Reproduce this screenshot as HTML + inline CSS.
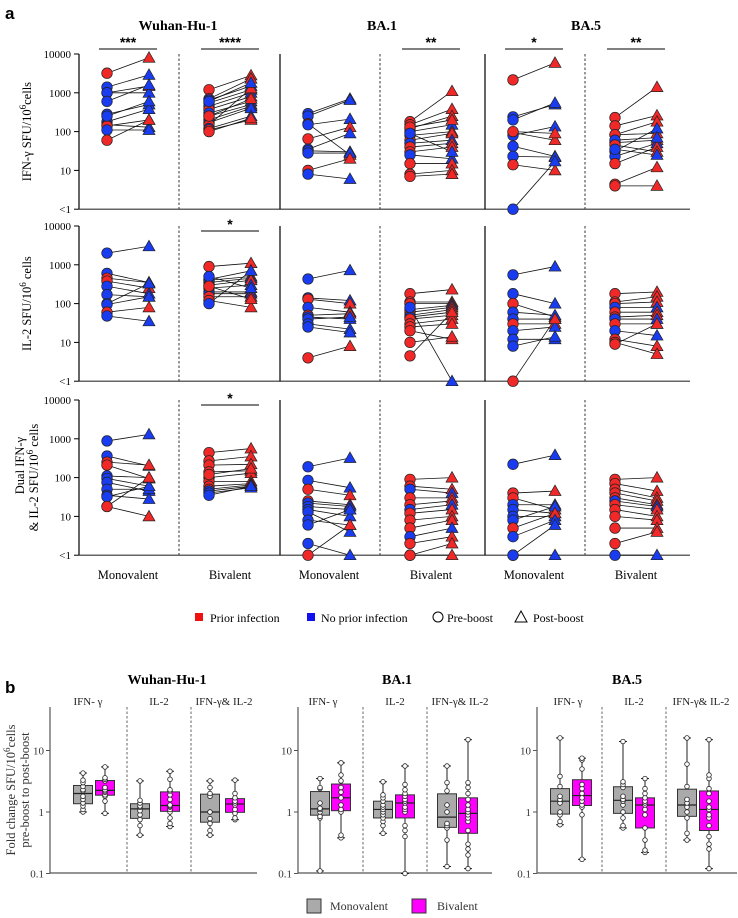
<!DOCTYPE html>
<html><head><meta charset="utf-8">
<style>
html,body{margin:0;padding:0;background:#fff;}
svg{display:block;font-family:"Liberation Serif",serif;}
.sans{font-family:"Liberation Sans",sans-serif;}
</style></head>
<body>
<svg id="fig" width="738" height="918" viewBox="0 0 738 918" xmlns="http://www.w3.org/2000/svg">
  <text x="5" y="19" class="sans" font-size="17" font-weight="bold">a</text>
  <text x="5" y="693" class="sans" font-size="17" font-weight="bold">b</text>
  <text x="178" y="30" font-size="14" font-weight="bold" text-anchor="middle">Wuhan-Hu-1</text>
  <text x="382" y="30" font-size="14" font-weight="bold" text-anchor="middle">BA.1</text>
  <text x="586" y="30" font-size="14" font-weight="bold" text-anchor="middle">BA.5</text>
  <g id="gA"></g>
  <g id="gB"></g>
  <g>
    <rect x="195" y="613" width="8" height="8" fill="#f01010"/>
    <text x="210" y="622" font-size="12">Prior infection</text>
    <rect x="307" y="613" width="8" height="8" fill="#1010f0"/>
    <text x="321" y="622" font-size="12">No prior infection</text>
    <circle cx="438" cy="617" r="5" fill="none" stroke="#000"/>
    <text x="447" y="622" font-size="12">Pre-boost</text>
    <path d="M521 611 L527 622 L515 622 Z" fill="none" stroke="#000"/>
    <text x="533" y="622" font-size="12">Post-boost</text>
  </g>
  <g>
    <rect x="307" y="899" width="14" height="14" fill="#aaa" stroke="#333"/>
    <text x="330" y="910" font-size="12" fill="#333">Monovalent</text>
    <rect x="412" y="899" width="14" height="14" fill="#ff00ff" stroke="#333"/>
    <text x="437" y="910" font-size="12" fill="#333">Bivalent</text>
  </g>
</svg>
<script>
// ===== Panel a data: SFU/10^6 cells (values <1 plotted as "<1") =====
const yTicksA = [10000, 1000, 100, 10, 1];
const yTickLabelsA = ["10000", "1000", "100", "10", "<1"];
const antigens = ["Wuhan-Hu-1", "BA.1", "BA.5"];
const vaccines = ["Monovalent", "Bivalent"];

// IFN-gamma
const ifnWuhanMonoPre = [3200,1400,1000,1000,600,280,180,150,140,110,60,250];
const ifnWuhanMonoPost = [8000,2900,1500,1000,1600,500,380,130,200,110,200,600];
const ifnWuhanMonoPrior = [1,0,1,0,0,0,0,0,1,0,1,0];
const ifnWuhanBiPre = [1200,700,650,550,450,370,300,250,200,170,150,120,110,100,600,250];
const ifnWuhanBiPost = [2800,2300,1500,1200,1000,800,600,500,450,400,1300,250,200,220,1800,700];
const ifnWuhanBiPrior = [1,1,0,1,0,1,0,1,0,0,1,0,1,1,0,1];
const ifnBa1MonoPre = [290,250,160,150,65,35,32,28,10,8];
const ifnBa1MonoPost = [700,650,25,210,130,90,30,28,20,6];
const ifnBa1MonoPrior = [0,0,1,0,1,0,0,0,1,0];
const ifnBa1BiPre = [180,150,120,100,80,60,50,40,30,25,15,8,7,130,90];
const ifnBa1BiPost = [1100,380,250,150,100,90,60,50,40,20,15,10,8,200,30];
const ifnBa1BiPrior = [1,1,1,0,1,1,0,1,1,0,1,1,1,1,0];
const ifnBa5MonoPre = [2150,240,200,95,80,42,23,14,1,100];
const ifnBa5MonoPost = [5900,500,550,60,135,23,22,10,17,90];
const ifnBa5MonoPrior = [1,0,0,1,0,0,0,1,0,1];
const ifnBa5BiPre = [230,140,83,83,52,31,23,15,4.4,4,60,45,35];
const ifnBa5BiPost = [1400,260,180,90,60,120,50,40,12,4,70,30,25];
const ifnBa5BiPrior = [1,1,1,1,1,0,0,1,1,1,0,1,0];
// IL-2
const il2WuhanMonoPre = [2000,600,450,380,280,170,100,95,60,48];
const il2WuhanMonoPost = [3000,350,350,250,180,150,330,150,80,35];
const il2WuhanMonoPrior = [0,0,1,1,0,0,0,0,1,0];
const il2WuhanBiPre = [900,420,400,350,300,250,200,180,150,120,100,500,280];
const il2WuhanBiPost = [1100,700,500,450,400,300,200,180,150,80,700,250,130];
const il2WuhanBiPrior = [1,0,1,0,1,0,1,0,1,1,0,0,1];
const il2Ba1MonoPre = [430,140,130,80,50,45,40,30,25,4];
const il2Ba1MonoPost = [720,120,100,60,55,40,45,22,18,8];
const il2Ba1MonoPrior = [0,0,1,0,1,0,0,0,0,1];
const il2Ba1BiPre = [180,110,100,70,60,50,45,40,30,25,20,10,4.5,80];
const il2Ba1BiPost = [230,110,100,90,80,70,60,50,40,30,12,14,60,1];
const il2Ba1BiPrior = [1,1,1,0,1,1,0,1,1,1,1,1,1,0];
const il2Ba5MonoPre = [550,180,100,60,40,30,20,12,8,1];
const il2Ba5MonoPost = [900,100,45,50,40,30,25,12,14,40];
const il2Ba5MonoPrior = [0,0,1,0,0,1,0,0,0,1];
const il2Ba5BiPre = [180,110,100,80,60,45,40,30,20,12,10,9];
const il2Ba5BiPost = [200,150,110,80,60,50,40,30,15,8,5,30];
const il2Ba5BiPrior = [1,1,1,0,1,1,0,1,0,1,1,1];
// Dual IFN-gamma & IL-2
const dualWuhanMonoPre = [880,360,250,210,110,95,75,50,35,32,18,18];
const dualWuhanMonoPost = [1300,200,210,95,100,60,45,50,28,60,100,10];
const dualWuhanMonoPrior = [0,0,1,1,0,0,0,0,0,0,1,1];
const dualWuhanBiPre = [440,270,210,140,100,80,60,50,45,40,35,120];
const dualWuhanBiPost = [560,350,220,150,130,80,70,65,60,55,60,170];
const dualWuhanBiPrior = [1,1,1,1,1,1,1,1,0,0,0,1];
const dualBa1MonoPre = [190,85,50,25,22,18,15,13,8,6,2,1];
const dualBa1MonoPost = [320,55,35,20,18,15,10,4,6,15,1,6];
const dualBa1MonoPrior = [0,0,1,1,0,0,0,0,0,0,0,1];
const dualBa1BiPre = [90,60,50,30,20,15,12,8,5,3,2,1,1];
const dualBa1BiPost = [100,50,40,30,25,20,15,10,8,5,3,2,1];
const dualBa1BiPrior = [1,1,0,1,1,0,1,1,1,0,1,1,1];
const dualBa5MonoPre = [220,40,30,20,15,10,8,5,3,1,1];
const dualBa5MonoPost = [380,45,15,20,12,10,18,12,8,6,1];
const dualBa5MonoPrior = [0,1,1,0,0,0,0,1,0,0,0];
const dualBa5BiPre = [90,70,50,40,30,25,20,15,10,5,2,1];
const dualBa5BiPost = [100,45,30,25,20,18,15,10,8,5,4,1];
const dualBa5BiPrior = [1,1,1,1,1,0,1,1,1,1,1,0];

const sigLabels = [["***","****","","**","*","**"],["","*","","","",""],["","*","","","",""]];

// ===== Panel b data: fold change post/pre =====
const yTicksB = [10, 1, 0.1];
const yTickLabelsB = ["10", "1", "0.1"];
const readouts = ["IFN- γ", "IL-2", "IFN-γ& IL-2"];
const fcWuhanIfnMono = [1.0,1.1,1.25,1.4,1.6,1.8,2.2,2.3,2.6,3.0,3.3,4.3];
const fcWuhanIfnBi = [0.95,1.5,1.8,1.9,2.1,2.2,2.3,2.5,3.2,3.4,3.6,5.4];
const fcWuhanIl2Mono = [0.42,0.6,0.75,0.9,1.05,1.2,1.25,1.4,1.55,3.2];
const fcWuhanIl2Bi = [0.58,0.65,0.8,1.0,1.1,1.2,1.25,1.3,1.6,1.9,2.2,2.3,3.4,4.6];
const fcWuhanDualMono = [0.42,0.5,0.65,0.78,1.0,1.0,1.8,2.0,2.5,3.2];
const fcWuhanDualBi = [0.75,0.8,0.95,1.1,1.3,1.4,1.5,1.7,2.0,3.3];
const fcBa1IfnMono = [0.11,0.8,0.85,1.0,1.1,1.15,1.4,2.4,2.5,3.5];
const fcBa1IfnBi = [0.38,0.42,1.0,1.1,1.3,1.7,2.1,2.5,3.2,4.0,6.3];
const fcBa1Il2Mono = [0.45,0.6,0.7,0.8,0.9,1.0,1.1,1.2,1.3,1.5,1.7,1.9,3.1];
const fcBa1Il2Bi = [0.1,0.4,0.5,0.6,1.0,1.1,1.2,1.4,1.5,1.6,1.8,2.0,2.3,2.8,5.6];
const fcBa1DualMono = [0.13,0.35,0.55,0.6,0.65,1.0,1.3,2.2,3.0,5.6];
const fcBa1DualBi = [0.12,0.2,0.25,0.3,0.5,0.7,0.8,0.9,1.0,1.1,1.3,1.6,2.0,2.5,3.0,15];
const fcBa5IfnMono = [0.62,0.7,0.9,1.0,1.4,1.6,1.8,2.6,3.8,16];
const fcBa5IfnBi = [0.17,0.9,1.2,1.3,1.5,1.7,2.0,2.4,2.8,5.0,7.0,7.5];
const fcBa5Il2Mono = [0.55,0.6,0.8,1.0,1.3,1.5,1.6,1.8,2.5,2.8,3.1,14];
const fcBa5Il2Bi = [0.22,0.24,0.35,0.55,0.9,1.1,1.3,1.4,1.5,1.7,2.0,2.4,3.5];
const fcBa5DualMono = [0.35,0.45,0.8,1.0,1.2,1.4,1.6,2.6,6.0,16];
const fcBa5DualBi = [0.12,0.25,0.3,0.4,0.6,0.8,0.9,1.1,1.2,1.5,2.0,2.4,3.5,4.0,15];

const NS = "http://www.w3.org/2000/svg";
function mk(parent, tag, attrs, text){
  const e = document.createElementNS(NS, tag);
  for (const k in attrs) e.setAttribute(k, attrs[k]);
  if (text !== undefined) e.textContent = text;
  parent.appendChild(e);
  return e;
}
const RED = "#f02828", BLUE = "#1a3cf0";

// ---------- Panel A ----------
const gA = document.getElementById("gA");
const rowTops = [54, 226, 400];
const decA = 38.8;
const secStarts = [79, 280, 485];
const axRight = 690;
function yA(row, v){ return rowTops[row] + (4 - Math.log10(Math.max(v,1))) * decA; }
const panels = [
  [[ifnWuhanMonoPre,ifnWuhanMonoPost,ifnWuhanMonoPrior],[ifnWuhanBiPre,ifnWuhanBiPost,ifnWuhanBiPrior],
   [ifnBa1MonoPre,ifnBa1MonoPost,ifnBa1MonoPrior],[ifnBa1BiPre,ifnBa1BiPost,ifnBa1BiPrior],
   [ifnBa5MonoPre,ifnBa5MonoPost,ifnBa5MonoPrior],[ifnBa5BiPre,ifnBa5BiPost,ifnBa5BiPrior]],
  [[il2WuhanMonoPre,il2WuhanMonoPost,il2WuhanMonoPrior],[il2WuhanBiPre,il2WuhanBiPost,il2WuhanBiPrior],
   [il2Ba1MonoPre,il2Ba1MonoPost,il2Ba1MonoPrior],[il2Ba1BiPre,il2Ba1BiPost,il2Ba1BiPrior],
   [il2Ba5MonoPre,il2Ba5MonoPost,il2Ba5MonoPrior],[il2Ba5BiPre,il2Ba5BiPost,il2Ba5BiPrior]],
  [[dualWuhanMonoPre,dualWuhanMonoPost,dualWuhanMonoPrior],[dualWuhanBiPre,dualWuhanBiPost,dualWuhanBiPrior],
   [dualBa1MonoPre,dualBa1MonoPost,dualBa1MonoPrior],[dualBa1BiPre,dualBa1BiPost,dualBa1BiPrior],
   [dualBa5MonoPre,dualBa5MonoPost,dualBa5MonoPrior],[dualBa5BiPre,dualBa5BiPost,dualBa5BiPrior]]
];
const rowLabels = [["IFN-γ  SFU/10","6","cells"],["IL-2 SFU/10","6"," cells"],["& IL-2 SFU/10","6"," cells"]];
function colX(c){ const s = secStarts[Math.floor(c/2)]; return (c%2===0) ? [s+28, s+70] : [s+130, s+172]; }

for (let r=0; r<3; r++){
  const top = rowTops[r], bot = yA(r,1);
  const axes = mk(gA,"g",{});
  
  
  let ln = mk(axes,"line",{x1:79,y1:top,x2:79,y2:bot,stroke:"#000","stroke-width":1.2});
  
  
  ln = mk(axes,"line",{x1:79,y1:bot,x2:axRight,y2:bot,stroke:"#333","stroke-width":1.2});
  
  
  for (const s of [280,485]){
    ln = mk(axes,"line",{x1:s,y1:top,x2:s,y2:bot,stroke:"#000","stroke-width":1.2});
    
    
  }
  for (const s of secStarts){
    ln = mk(axes,"line",{x1:s+100,y1:top,x2:s+100,y2:bot,stroke:"#333","stroke-width":1,"stroke-dasharray":"2.5,2"});
    
    
  }
  yTicksA.forEach((t,i)=>{
    const y = yA(r,t);
    const tk = mk(axes,"line",{x1:74,y1:y,x2:79,y2:y,stroke:"#000"});
    
    
    const tl = mk(axes,"text",{x:71,y:y+4,"font-size":11,"text-anchor":"end"}, yTickLabelsA[i]);
    
    
  });
  const cy = (top+bot)/2;
  const yt = mk(gA,"text",{transform:"translate("+(r===2?38:31)+","+cy+") rotate(-90)","font-size":12.5,"text-anchor":"middle"});
  
  
  const l = rowLabels[r];
  mk(yt,"tspan",{},l[0]); mk(yt,"tspan",{dy:-5,"font-size":9},l[1]); mk(yt,"tspan",{dy:5},l[2]);
  if (r===2){
    const yt2 = mk(gA,"text",{transform:"translate(24,"+(cy-12)+") rotate(-90)","font-size":12.5,"text-anchor":"middle"},"Dual IFN-γ");
    
    
  }
  for (let c=0; c<6; c++){
    const [pre,post,prior] = panels[r][c];
    const [xp,xq] = colX(c);
    const g = mk(gA,"g",{});
    
    
    for (let i=0;i<pre.length;i++){
      const pl = mk(g,"line",{x1:xp,y1:yA(r,pre[i]),x2:xq,y2:yA(r,post[i]),stroke:"#111","stroke-width":0.8});
      
      
    }
    for (let i=0;i<pre.length;i++){
      const col = prior[i] ? RED : BLUE;
      const y = yA(r,post[i]);
      const tri = mk(g,"path",{d:"M"+xq+" "+(y-6)+" L"+(xq+6)+" "+(y+4.5)+" L"+(xq-6)+" "+(y+4.5)+" Z",fill:col,stroke:"#222","stroke-width":0.7});
      
      
    }
    for (let i=0;i<pre.length;i++){
      const col = prior[i] ? RED : BLUE;
      const ci = mk(g,"circle",{cx:xp,cy:yA(r,pre[i]),r:5.3,fill:col,stroke:"#222","stroke-width":0.7});
      
      
    }
    const s = sigLabels[r][c];
    if (s){
      const sy = r===0 ? top - 5 : top + 5;
      const sb = mk(gA,"line",{x1:xp-8,y1:sy,x2:xq+8,y2:sy,stroke:"#000","stroke-width":1});
      
      
      const st = mk(gA,"text",{x:(xp+xq)/2,y:sy-2,"font-size":14,"font-weight":"bold","text-anchor":"middle",class:"sans"},s);
      
      
    }
    if (r===2){
      const xl = mk(gA,"text",{x:(xp+xq)/2,y:579,"font-size":12.5,"text-anchor":"middle"},vaccines[c%2]);
      
      
    }
  }
}

// ---------- Panel B ----------
const gB = document.getElementById("gB");
const yB1 = 812, decB = 61.5, bTop = 707, bBot = 873;
function yB(v){ return yB1 - Math.log10(v) * decB; }
const subplots = [
  {title:"Wuhan-Hu-1", tx:167, x0:50, x1:257, seps:[127,191], sub:[88,159,224],
   centers:[[83,105],[140,170],[210,235]],
   data:[[fcWuhanIfnMono,fcWuhanIfnBi],[fcWuhanIl2Mono,fcWuhanIl2Bi],[fcWuhanDualMono,fcWuhanDualBi]]},
  {title:"BA.1", tx:397, x0:298, x1:492, seps:[363,427], sub:[323,395,460],
   centers:[[320,341],[383,405],[447,468]],
   data:[[fcBa1IfnMono,fcBa1IfnBi],[fcBa1Il2Mono,fcBa1Il2Bi],[fcBa1DualMono,fcBa1DualBi]]},
  {title:"BA.5", tx:627, x0:537, x1:737, seps:[602,666], sub:[568,634,701],
   centers:[[560,582],[623,645],[687,709]],
   data:[[fcBa5IfnMono,fcBa5IfnBi],[fcBa5Il2Mono,fcBa5Il2Bi],[fcBa5DualMono,fcBa5DualBi]]}
];
function q(sorted,p){ const pos=(sorted.length-1)*p, lo=Math.floor(pos), hi=Math.ceil(pos); return sorted[lo]+(sorted[hi]-sorted[lo])*(pos-lo); }
subplots.forEach((sp,si)=>{
  const g = mk(gB,"g",{});
  
  
  const t = mk(g,"text",{x:sp.tx,y:684,"font-size":14,"font-weight":"bold","text-anchor":"middle"},sp.title);
  
  
  let ln = mk(g,"line",{x1:sp.x0,y1:bTop,x2:sp.x0,y2:bBot,stroke:"#555","stroke-width":1.2});
  
  
  ln = mk(g,"line",{x1:sp.x0,y1:bBot,x2:sp.x1,y2:bBot,stroke:"#555","stroke-width":1.2});
  
  
  sp.seps.forEach(x=>{
    const d = mk(g,"line",{x1:x,y1:bTop,x2:x,y2:bBot,stroke:"#555","stroke-width":0.9,"stroke-dasharray":"2.5,2"});
    
    
  });
  yTicksB.forEach((tv,i)=>{
    const y = yB(tv);
    const tk = mk(g,"line",{x1:sp.x0-4,y1:y,x2:sp.x0,y2:y,stroke:"#555"});
    
    
    const tl = mk(g,"text",{x:sp.x0-6,y:y+4,"font-size":11,"text-anchor":"end",fill:"#333"},yTickLabelsB[i]);
    
    
  });
  readouts.forEach((rd,ri)=>{
    const st = mk(g,"text",{x:sp.sub[ri],y:705,"font-size":11,"text-anchor":"middle",fill:"#222"},rd);
    
    
    [0,1].forEach(vi=>{
      const vals = sp.data[ri][vi].slice().sort((a,b)=>a-b);
      const cx = sp.centers[ri][vi];
      const q1=q(vals,0.25), med=q(vals,0.5), q3=q(vals,0.75);
      const bg = mk(g,"g",{});
      
      
      const mn = vals[0], mx = vals[vals.length-1];
      mk(bg,"line",{x1:cx,y1:yB(mx),x2:cx,y2:yB(mn),stroke:"#222","stroke-width":1});
      mk(bg,"line",{x1:cx-4,y1:yB(mx),x2:cx+4,y2:yB(mx),stroke:"#222","stroke-width":1});
      mk(bg,"line",{x1:cx-4,y1:yB(mn),x2:cx+4,y2:yB(mn),stroke:"#222","stroke-width":1});
      mk(bg,"rect",{x:cx-9.5,y:yB(q3),width:19,height:yB(q1)-yB(q3),fill:vi?"#ff00ff":"#aaaaaa",stroke:"#333","stroke-width":1});
      mk(bg,"line",{x1:cx-9.5,y1:yB(med),x2:cx+9.5,y2:yB(med),stroke:"#222","stroke-width":1.2});
      vals.forEach(v=>{
        const p = mk(bg,"circle",{cx:cx,cy:yB(v),r:2.3,fill:"#fff",stroke:"#222","stroke-width":0.8});
        
        
      });
    });
  });
});
const by = mk(gB,"text",{transform:"translate(15,790) rotate(-90)","font-size":12.5,"text-anchor":"middle",fill:"#333"});


mk(by,"tspan",{},"Fold change SFU/10"); mk(by,"tspan",{dy:-5,"font-size":9},"6"); mk(by,"tspan",{dy:5},"cells");
const by2 = mk(gB,"text",{transform:"translate(29,790) rotate(-90)","font-size":12.5,"text-anchor":"middle",fill:"#333"},"pre-boost to post-boost");


</script>
</body></html>
